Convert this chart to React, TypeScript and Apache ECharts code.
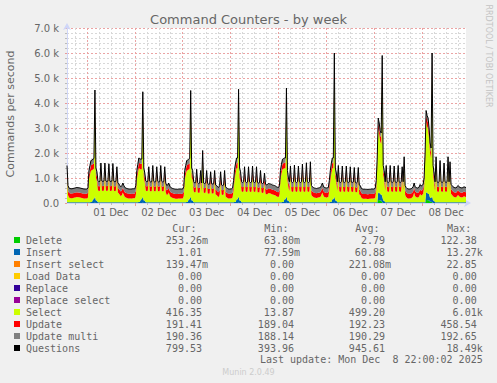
import React, { useEffect, useRef } from 'react';
import * as echarts from 'echarts';

// 30-minute samples, index 0 = Nov 30 14:00, index 400 = Dec 8 22:00
const dayLabels = ['01 Dec', '02 Dec', '03 Dec', '04 Dec', '05 Dec', '06 Dec', '07 Dec', '08 Dec'];

const questions = [
  1500, 700, 600, 580, 570, 570, 580, 590, 600, 610, 620, 610, 610, 600, 590, 580, 570, 560, 560, 560,
  560, 600, 1300, 1500, 1700, 1720, 1750, 1780, 4520, 1400, 1250, 900, 850, 870, 1600, 880, 860, 880, 1600, 880,
  860, 880, 1570, 870, 860, 880, 1580, 870, 850, 870, 1450, 800, 760, 700, 650, 700, 800, 700, 620, 600,
  580, 570, 560, 560, 560, 560, 570, 570, 570, 700, 1300, 1550, 1800, 1780, 1750, 1760, 4450, 1400, 1200, 880,
  850, 870, 1450, 870, 840, 860, 1500, 870, 840, 860, 1450, 870, 840, 860, 1500, 870, 840, 860, 1450, 800,
  700, 720, 800, 680, 620, 600, 580, 570, 560, 550, 550, 550, 560, 560, 560, 560, 560, 650, 1300, 1500,
  1700, 1720, 1750, 1780, 4500, 1400, 1300, 850, 800, 820, 1350, 820, 780, 800, 1300, 800, 2100, 800, 780, 800,
  1300, 780, 750, 760, 1250, 770, 760, 770, 1300, 720, 700, 650, 620, 700, 1250, 720, 700, 720, 1300, 650,
  600, 580, 560, 560, 560, 570, 600, 900, 1350, 1600, 1800, 1800, 4550, 1400, 1250, 850, 820, 850, 1450, 850,
  820, 840, 1450, 850, 820, 840, 1480, 850, 820, 840, 1450, 820, 800, 820, 1300, 800, 780, 800, 1200, 760,
  720, 740, 780, 770, 760, 740, 720, 710, 700, 680, 650, 630, 620, 700, 1300, 1550, 1750, 1780, 1800, 1800,
  4600, 1300, 1000, 850, 1480, 850, 820, 850, 1520, 850, 820, 850, 1480, 850, 820, 850, 1560, 850, 820, 850,
  1610, 850, 820, 850, 1650, 700, 650, 620, 600, 590, 580, 590, 600, 610, 620, 700, 800, 680, 620, 610,
  600, 610, 620, 900, 1300, 1600, 1800, 1800, 6000, 1400, 1200, 850, 1500, 850, 820, 850, 1480, 850, 820, 850,
  1480, 850, 820, 840, 1450, 840, 820, 840, 1420, 830, 800, 830, 1420, 720, 700, 600, 560, 550, 550, 550,
  550, 540, 540, 550, 550, 560, 560, 560, 560, 600, 900, 1800, 3400, 3200, 2900, 2800, 5900, 1500, 1300, 850,
  1500, 850, 820, 850, 1500, 850, 820, 850, 1480, 850, 820, 850, 1500, 850, 820, 850, 1450, 850, 1850, 700,
  620, 580, 560, 560, 560, 570, 600, 650, 800, 650, 620, 600, 600, 640, 740, 680, 700, 750, 1000, 2000,
  3700, 3500, 3400, 3000, 2400, 2200, 6000, 1500, 1200, 850, 1850, 850, 820, 850, 1700, 850, 820, 850, 1600, 850,
  820, 850, 1850, 850, 1650, 750, 700, 650, 620, 610, 600, 650, 700, 650, 620, 610, 600, 620, 650, 630,
  620,
];

const selectCmd = [
  1090, 290, 190, 170, 160, 160, 170, 180, 190, 200, 210, 200, 200, 190, 180, 170, 160, 150, 150, 150,
  150, 190, 890, 1090, 1250, 1270, 1190, 1220, 3770, 920, 770, 490, 440, 460, 1190, 470, 450, 470, 1190, 470,
  450, 470, 1160, 460, 450, 470, 1170, 460, 440, 460, 1040, 390, 350, 290, 240, 290, 390, 290, 210, 190,
  170, 160, 150, 150, 150, 150, 160, 160, 160, 290, 890, 1140, 1350, 1330, 1190, 1200, 3700, 920, 720, 470,
  440, 460, 1040, 460, 430, 450, 1090, 460, 430, 450, 1040, 460, 430, 450, 1090, 460, 430, 450, 1040, 390,
  290, 310, 390, 270, 210, 190, 170, 160, 150, 140, 140, 140, 150, 150, 150, 150, 150, 240, 890, 1090,
  1250, 1270, 1190, 1220, 3750, 920, 820, 440, 390, 410, 940, 410, 370, 390, 890, 390, 1690, 390, 370, 390,
  890, 370, 340, 350, 840, 360, 350, 360, 890, 310, 290, 240, 210, 290, 840, 310, 290, 310, 890, 240,
  190, 170, 150, 150, 150, 160, 190, 490, 900, 1150, 1240, 1240, 3800, 920, 770, 440, 410, 440, 1040, 440,
  410, 430, 1040, 440, 410, 430, 1070, 440, 410, 430, 1040, 410, 390, 410, 890, 390, 370, 390, 790, 350,
  310, 330, 370, 360, 350, 330, 310, 300, 290, 270, 240, 220, 210, 290, 890, 1140, 1300, 1330, 1240, 1240,
  3850, 820, 520, 440, 1070, 440, 410, 440, 1110, 440, 410, 440, 1070, 440, 410, 440, 1150, 440, 410, 440,
  1200, 440, 410, 440, 1240, 290, 240, 210, 190, 180, 170, 180, 190, 200, 210, 290, 390, 270, 210, 200,
  190, 200, 210, 490, 850, 1150, 1240, 1240, 5250, 920, 720, 440, 1090, 440, 410, 440, 1070, 440, 410, 440,
  1070, 440, 410, 430, 1040, 430, 410, 430, 1010, 420, 390, 420, 1010, 310, 290, 190, 150, 140, 140, 140,
  140, 130, 130, 140, 140, 150, 150, 150, 150, 190, 490, 1390, 2540, 2340, 2110, 2010, 5080, 1020, 820, 440,
  1090, 440, 410, 440, 1090, 440, 410, 440, 1070, 440, 410, 440, 1090, 440, 410, 440, 1040, 440, 1440, 290,
  210, 170, 150, 150, 150, 160, 190, 240, 390, 240, 210, 190, 190, 230, 330, 270, 290, 340, 590, 1590,
  2840, 2640, 2600, 2200, 1790, 1590, 5070, 1020, 720, 440, 1440, 440, 410, 440, 1290, 440, 410, 440, 1190, 440,
  410, 440, 1440, 440, 1240, 340, 290, 240, 210, 200, 190, 240, 290, 240, 210, 200, 190, 210, 240, 220,
  210,
];

const updateCmd = [
  191, 191, 191, 191, 191, 191, 191, 191, 191, 191, 191, 191, 191, 191, 191, 191, 191, 191, 191, 191,
  191, 191, 191, 191, 220, 220, 220, 220, 300, 191, 191, 191, 191, 191, 191, 191, 191, 191, 191, 191,
  191, 191, 191, 191, 191, 191, 191, 191, 191, 191, 191, 191, 191, 191, 191, 191, 191, 191, 191, 191,
  191, 191, 191, 191, 191, 191, 191, 191, 191, 191, 191, 191, 220, 220, 220, 220, 300, 191, 191, 191,
  191, 191, 191, 191, 191, 191, 191, 191, 191, 191, 191, 191, 191, 191, 191, 191, 191, 191, 191, 191,
  191, 191, 191, 191, 191, 191, 191, 191, 191, 191, 191, 191, 191, 191, 191, 191, 191, 191, 191, 191,
  220, 220, 220, 220, 300, 191, 191, 191, 191, 191, 191, 191, 191, 191, 191, 191, 191, 191, 191, 191,
  191, 191, 191, 191, 191, 191, 191, 191, 191, 191, 191, 191, 191, 191, 191, 191, 191, 191, 191, 191,
  191, 191, 191, 191, 191, 191, 191, 191, 220, 220, 220, 220, 300, 191, 191, 191, 191, 191, 191, 191,
  191, 191, 191, 191, 191, 191, 191, 191, 191, 191, 191, 191, 191, 191, 191, 191, 191, 191, 191, 191,
  191, 191, 191, 191, 191, 191, 191, 191, 191, 191, 191, 191, 191, 191, 191, 191, 220, 220, 220, 220,
  300, 191, 191, 191, 191, 191, 191, 191, 191, 191, 191, 191, 191, 191, 191, 191, 191, 191, 191, 191,
  191, 191, 191, 191, 191, 191, 191, 191, 191, 191, 191, 191, 191, 191, 191, 191, 191, 191, 191, 191,
  191, 191, 191, 191, 220, 220, 220, 220, 300, 191, 191, 191, 191, 191, 191, 191, 191, 191, 191, 191,
  191, 191, 191, 191, 191, 191, 191, 191, 191, 191, 191, 191, 191, 191, 191, 191, 191, 191, 191, 191,
  191, 191, 191, 191, 191, 191, 191, 191, 191, 191, 191, 191, 250, 250, 250, 250, 350, 191, 191, 191,
  191, 191, 191, 191, 191, 191, 191, 191, 191, 191, 191, 191, 191, 191, 191, 191, 191, 191, 191, 191,
  191, 191, 191, 191, 191, 191, 191, 191, 191, 191, 191, 191, 191, 191, 191, 191, 191, 191, 191, 191,
  250, 250, 250, 250, 220, 220, 458, 191, 191, 191, 191, 191, 191, 191, 191, 191, 191, 191, 191, 191,
  191, 191, 191, 191, 191, 191, 191, 191, 191, 191, 191, 191, 191, 191, 191, 191, 191, 191, 191, 191,
  191,
];

const updateMulti = [
  190, 190, 190, 190, 190, 190, 190, 190, 190, 190, 190, 190, 190, 190, 190, 190, 190, 190, 190, 190,
  190, 190, 190, 190, 190, 190, 190, 190, 190, 190, 190, 190, 190, 190, 190, 190, 190, 190, 190, 190,
  190, 190, 190, 190, 190, 190, 190, 190, 190, 190, 190, 190, 190, 190, 190, 190, 190, 190, 190, 190,
  190, 190, 190, 190, 190, 190, 190, 190, 190, 190, 190, 190, 190, 190, 190, 190, 190, 190, 190, 190,
  190, 190, 190, 190, 190, 190, 190, 190, 190, 190, 190, 190, 190, 190, 190, 190, 190, 190, 190, 190,
  190, 190, 190, 190, 190, 190, 190, 190, 190, 190, 190, 190, 190, 190, 190, 190, 190, 190, 190, 190,
  190, 190, 190, 190, 190, 190, 190, 190, 190, 190, 190, 190, 190, 190, 190, 190, 190, 190, 190, 190,
  190, 190, 190, 190, 190, 190, 190, 190, 190, 190, 190, 190, 190, 190, 190, 190, 190, 190, 190, 190,
  190, 190, 190, 190, 190, 190, 190, 190, 190, 190, 190, 190, 190, 190, 190, 190, 190, 190, 190, 190,
  190, 190, 190, 190, 190, 190, 190, 190, 190, 190, 190, 190, 190, 190, 190, 190, 190, 190, 190, 190,
  190, 190, 190, 190, 190, 190, 190, 190, 190, 190, 190, 190, 190, 190, 190, 190, 190, 190, 190, 190,
  190, 190, 190, 190, 190, 190, 190, 190, 190, 190, 190, 190, 190, 190, 190, 190, 190, 190, 190, 190,
  190, 190, 190, 190, 190, 190, 190, 190, 190, 190, 190, 190, 190, 190, 190, 190, 190, 190, 190, 190,
  190, 190, 190, 190, 190, 190, 190, 190, 190, 190, 190, 190, 190, 190, 190, 190, 190, 190, 190, 190,
  190, 190, 190, 190, 190, 190, 190, 190, 190, 190, 190, 190, 190, 190, 190, 190, 190, 190, 190, 190,
  190, 190, 190, 190, 190, 190, 190, 190, 190, 190, 190, 190, 190, 190, 190, 190, 190, 190, 190, 190,
  190, 190, 190, 190, 190, 190, 190, 190, 190, 190, 190, 190, 190, 190, 190, 190, 190, 190, 190, 190,
  190, 190, 190, 190, 190, 190, 190, 190, 190, 190, 190, 190, 190, 190, 190, 190, 190, 190, 190, 190,
  190, 190, 190, 190, 190, 190, 190, 190, 190, 190, 190, 190, 190, 190, 190, 190, 190, 190, 190, 190,
  190, 190, 190, 190, 190, 190, 190, 190, 190, 190, 190, 190, 190, 190, 190, 190, 190, 190, 190, 190,
  190,
];

const insertCmd = [
  25, 25, 25, 25, 25, 25, 25, 25, 25, 25, 25, 25, 25, 25, 25, 25, 25, 25, 25, 25,
  25, 25, 25, 25, 40, 40, 150, 150, 250, 100, 100, 25, 25, 25, 25, 25, 25, 25, 25, 25,
  25, 25, 25, 25, 25, 25, 25, 25, 25, 25, 25, 25, 25, 25, 25, 25, 25, 25, 25, 25,
  25, 25, 25, 25, 25, 25, 25, 25, 25, 25, 25, 25, 40, 40, 150, 150, 250, 100, 100, 25,
  25, 25, 25, 25, 25, 25, 25, 25, 25, 25, 25, 25, 25, 25, 25, 25, 25, 25, 25, 25,
  25, 25, 25, 25, 25, 25, 25, 25, 25, 25, 25, 25, 25, 25, 25, 25, 25, 25, 25, 25,
  40, 40, 150, 150, 250, 100, 100, 25, 25, 25, 25, 25, 25, 25, 25, 25, 25, 25, 25, 25,
  25, 25, 25, 25, 25, 25, 25, 25, 25, 25, 25, 25, 25, 25, 25, 25, 25, 25, 25, 25,
  25, 25, 25, 25, 25, 25, 25, 25, 40, 40, 150, 150, 250, 100, 100, 25, 25, 25, 25, 25,
  25, 25, 25, 25, 25, 25, 25, 25, 25, 25, 25, 25, 25, 25, 25, 25, 25, 25, 25, 25,
  25, 25, 25, 25, 25, 25, 25, 25, 25, 25, 25, 25, 25, 25, 25, 25, 40, 40, 150, 150,
  250, 100, 100, 25, 25, 25, 25, 25, 25, 25, 25, 25, 25, 25, 25, 25, 25, 25, 25, 25,
  25, 25, 25, 25, 25, 25, 25, 25, 25, 25, 25, 25, 25, 25, 25, 25, 25, 25, 25, 25,
  25, 25, 25, 25, 40, 40, 150, 150, 250, 100, 100, 25, 25, 25, 25, 25, 25, 25, 25, 25,
  25, 25, 25, 25, 25, 25, 25, 25, 25, 25, 25, 25, 25, 25, 25, 25, 25, 25, 25, 25,
  25, 25, 25, 25, 25, 25, 25, 25, 25, 25, 25, 25, 300, 300, 250, 250, 250, 100, 100, 25,
  25, 25, 25, 25, 25, 25, 25, 25, 25, 25, 25, 25, 25, 25, 25, 25, 25, 25, 25, 25,
  25, 25, 25, 25, 25, 25, 25, 25, 25, 25, 25, 25, 25, 25, 25, 25, 25, 25, 25, 25,
  300, 300, 250, 250, 150, 150, 250, 100, 100, 25, 25, 25, 25, 25, 25, 25, 25, 25, 25, 25,
  25, 25, 25, 25, 25, 25, 25, 25, 25, 25, 25, 25, 25, 25, 25, 25, 25, 25, 25, 25,
  25,
];

const deleteCmd = [
  2, 2, 2, 2, 2, 2, 2, 2, 2, 2, 2, 2, 2, 2, 2, 2, 2, 2, 2, 2,
  2, 2, 2, 2, 2, 2, 2, 2, 10, 2, 2, 2, 2, 2, 2, 2, 2, 2, 2, 2,
  2, 2, 2, 2, 2, 2, 2, 2, 2, 2, 2, 2, 2, 2, 2, 2, 2, 2, 2, 2,
  2, 2, 2, 2, 2, 2, 2, 2, 2, 2, 2, 2, 2, 2, 2, 2, 10, 2, 2, 2,
  2, 2, 2, 2, 2, 2, 2, 2, 2, 2, 2, 2, 2, 2, 2, 2, 2, 2, 2, 2,
  2, 2, 2, 2, 2, 2, 2, 2, 2, 2, 2, 2, 2, 2, 2, 2, 2, 2, 2, 2,
  2, 2, 2, 2, 10, 2, 2, 2, 2, 2, 2, 2, 2, 2, 2, 2, 2, 2, 2, 2,
  2, 2, 2, 2, 2, 2, 2, 2, 2, 2, 2, 2, 2, 2, 2, 2, 2, 2, 2, 2,
  2, 2, 2, 2, 2, 2, 2, 2, 2, 2, 2, 2, 10, 2, 2, 2, 2, 2, 2, 2,
  2, 2, 2, 2, 2, 2, 2, 2, 2, 2, 2, 2, 2, 2, 2, 2, 2, 2, 2, 2,
  2, 2, 2, 2, 2, 2, 2, 2, 2, 2, 2, 2, 2, 2, 2, 2, 2, 2, 2, 2,
  10, 2, 2, 2, 2, 2, 2, 2, 2, 2, 2, 2, 2, 2, 2, 2, 2, 2, 2, 2,
  2, 2, 2, 2, 2, 2, 2, 2, 2, 2, 2, 2, 2, 2, 2, 2, 2, 2, 2, 2,
  2, 2, 2, 2, 2, 2, 2, 2, 10, 2, 2, 2, 2, 2, 2, 2, 2, 2, 2, 2,
  2, 2, 2, 2, 2, 2, 2, 2, 2, 2, 2, 2, 2, 2, 2, 2, 2, 2, 2, 2,
  2, 2, 2, 2, 2, 2, 2, 2, 2, 2, 2, 2, 120, 120, 100, 100, 30, 2, 2, 2,
  2, 2, 2, 2, 2, 2, 2, 2, 2, 2, 2, 2, 2, 2, 2, 2, 2, 2, 2, 2,
  2, 2, 2, 2, 2, 2, 2, 2, 2, 2, 2, 2, 2, 2, 2, 2, 2, 2, 2, 2,
  120, 120, 110, 110, 50, 50, 30, 2, 2, 2, 2, 2, 2, 2, 2, 2, 2, 2, 2, 2,
  2, 2, 2, 2, 2, 2, 2, 2, 2, 2, 2, 2, 2, 2, 2, 2, 2, 2, 2, 2,
  2,
];

const insertSelect = [
  0, 0, 0, 0, 0, 0, 0, 0, 0, 0, 0, 0, 0, 0, 0, 0, 0, 0, 0, 0, 0, 0, 0, 0, 0, 0, 0, 0, 0, 0, 0, 0, 0, 0, 0, 0, 0, 0, 0, 0,
  0, 0, 0, 0, 0, 0, 0, 0, 0, 0, 0, 0, 0, 0, 0, 0, 0, 0, 0, 0, 0, 0, 0, 0, 0, 0, 0, 0, 0, 0, 0, 0, 0, 0, 0, 0, 0, 0, 0, 0,
  0, 0, 0, 0, 0, 0, 0, 0, 0, 0, 0, 0, 0, 0, 0, 0, 0, 0, 0, 0, 0, 0, 0, 0, 0, 0, 0, 0, 0, 0, 0, 0, 0, 0, 0, 0, 0, 0, 0, 0,
  0, 0, 0, 0, 0, 0, 0, 0, 0, 0, 0, 0, 0, 0, 0, 0, 0, 0, 0, 0, 0, 0, 0, 0, 0, 0, 0, 0, 0, 0, 0, 0, 0, 0, 0, 0, 0, 0, 0, 0,
  0, 0, 0, 0, 0, 0, 0, 0, 0, 0, 0, 0, 0, 0, 0, 0, 0, 0, 0, 0, 0, 0, 0, 0, 0, 0, 0, 0, 0, 0, 0, 0, 0, 0, 0, 0, 0, 0, 0, 0,
  0, 0, 0, 0, 0, 0, 0, 0, 0, 0, 0, 0, 0, 0, 0, 0, 0, 0, 0, 0, 0, 0, 0, 0, 0, 0, 0, 0, 0, 0, 0, 0, 0, 0, 0, 0, 0, 0, 0, 0,
  0, 0, 0, 0, 0, 0, 0, 0, 0, 0, 0, 0, 0, 0, 0, 0, 0, 0, 0, 0, 0, 0, 0, 0, 0, 0, 0, 0, 0, 0, 0, 0, 0, 0, 0, 0, 0, 0, 0, 0,
  0, 0, 0, 0, 0, 0, 0, 0, 0, 0, 0, 0, 0, 0, 0, 0, 0, 0, 0, 0, 0, 0, 0, 0, 0, 0, 0, 0, 0, 0, 0, 0, 0, 0, 0, 0, 0, 0, 0, 0,
  0, 0, 0, 0, 0, 0, 0, 0, 0, 0, 0, 0, 0, 0, 0, 0, 0, 0, 0, 0, 0, 0, 0, 0, 0, 0, 0, 0, 0, 0, 0, 0, 0, 0, 0, 0, 0, 0, 0, 0,
  0, 0, 0, 0, 0, 0, 0, 0, 0, 0, 0, 0, 0, 0, 0, 0, 0, 0, 0, 0, 0, 0, 0, 0, 0, 0, 0, 0, 0, 0, 0, 0, 0, 0, 0, 0, 0, 0, 0, 0,
  0,
];
const loadData = [
  0, 0, 0, 0, 0, 0, 0, 0, 0, 0, 0, 0, 0, 0, 0, 0, 0, 0, 0, 0, 0, 0, 0, 0, 0, 0, 0, 0, 0, 0, 0, 0, 0, 0, 0, 0, 0, 0, 0, 0,
  0, 0, 0, 0, 0, 0, 0, 0, 0, 0, 0, 0, 0, 0, 0, 0, 0, 0, 0, 0, 0, 0, 0, 0, 0, 0, 0, 0, 0, 0, 0, 0, 0, 0, 0, 0, 0, 0, 0, 0,
  0, 0, 0, 0, 0, 0, 0, 0, 0, 0, 0, 0, 0, 0, 0, 0, 0, 0, 0, 0, 0, 0, 0, 0, 0, 0, 0, 0, 0, 0, 0, 0, 0, 0, 0, 0, 0, 0, 0, 0,
  0, 0, 0, 0, 0, 0, 0, 0, 0, 0, 0, 0, 0, 0, 0, 0, 0, 0, 0, 0, 0, 0, 0, 0, 0, 0, 0, 0, 0, 0, 0, 0, 0, 0, 0, 0, 0, 0, 0, 0,
  0, 0, 0, 0, 0, 0, 0, 0, 0, 0, 0, 0, 0, 0, 0, 0, 0, 0, 0, 0, 0, 0, 0, 0, 0, 0, 0, 0, 0, 0, 0, 0, 0, 0, 0, 0, 0, 0, 0, 0,
  0, 0, 0, 0, 0, 0, 0, 0, 0, 0, 0, 0, 0, 0, 0, 0, 0, 0, 0, 0, 0, 0, 0, 0, 0, 0, 0, 0, 0, 0, 0, 0, 0, 0, 0, 0, 0, 0, 0, 0,
  0, 0, 0, 0, 0, 0, 0, 0, 0, 0, 0, 0, 0, 0, 0, 0, 0, 0, 0, 0, 0, 0, 0, 0, 0, 0, 0, 0, 0, 0, 0, 0, 0, 0, 0, 0, 0, 0, 0, 0,
  0, 0, 0, 0, 0, 0, 0, 0, 0, 0, 0, 0, 0, 0, 0, 0, 0, 0, 0, 0, 0, 0, 0, 0, 0, 0, 0, 0, 0, 0, 0, 0, 0, 0, 0, 0, 0, 0, 0, 0,
  0, 0, 0, 0, 0, 0, 0, 0, 0, 0, 0, 0, 0, 0, 0, 0, 0, 0, 0, 0, 0, 0, 0, 0, 0, 0, 0, 0, 0, 0, 0, 0, 0, 0, 0, 0, 0, 0, 0, 0,
  0, 0, 0, 0, 0, 0, 0, 0, 0, 0, 0, 0, 0, 0, 0, 0, 0, 0, 0, 0, 0, 0, 0, 0, 0, 0, 0, 0, 0, 0, 0, 0, 0, 0, 0, 0, 0, 0, 0, 0,
  0,
];
const replaceCmd = [
  0, 0, 0, 0, 0, 0, 0, 0, 0, 0, 0, 0, 0, 0, 0, 0, 0, 0, 0, 0, 0, 0, 0, 0, 0, 0, 0, 0, 0, 0, 0, 0, 0, 0, 0, 0, 0, 0, 0, 0,
  0, 0, 0, 0, 0, 0, 0, 0, 0, 0, 0, 0, 0, 0, 0, 0, 0, 0, 0, 0, 0, 0, 0, 0, 0, 0, 0, 0, 0, 0, 0, 0, 0, 0, 0, 0, 0, 0, 0, 0,
  0, 0, 0, 0, 0, 0, 0, 0, 0, 0, 0, 0, 0, 0, 0, 0, 0, 0, 0, 0, 0, 0, 0, 0, 0, 0, 0, 0, 0, 0, 0, 0, 0, 0, 0, 0, 0, 0, 0, 0,
  0, 0, 0, 0, 0, 0, 0, 0, 0, 0, 0, 0, 0, 0, 0, 0, 0, 0, 0, 0, 0, 0, 0, 0, 0, 0, 0, 0, 0, 0, 0, 0, 0, 0, 0, 0, 0, 0, 0, 0,
  0, 0, 0, 0, 0, 0, 0, 0, 0, 0, 0, 0, 0, 0, 0, 0, 0, 0, 0, 0, 0, 0, 0, 0, 0, 0, 0, 0, 0, 0, 0, 0, 0, 0, 0, 0, 0, 0, 0, 0,
  0, 0, 0, 0, 0, 0, 0, 0, 0, 0, 0, 0, 0, 0, 0, 0, 0, 0, 0, 0, 0, 0, 0, 0, 0, 0, 0, 0, 0, 0, 0, 0, 0, 0, 0, 0, 0, 0, 0, 0,
  0, 0, 0, 0, 0, 0, 0, 0, 0, 0, 0, 0, 0, 0, 0, 0, 0, 0, 0, 0, 0, 0, 0, 0, 0, 0, 0, 0, 0, 0, 0, 0, 0, 0, 0, 0, 0, 0, 0, 0,
  0, 0, 0, 0, 0, 0, 0, 0, 0, 0, 0, 0, 0, 0, 0, 0, 0, 0, 0, 0, 0, 0, 0, 0, 0, 0, 0, 0, 0, 0, 0, 0, 0, 0, 0, 0, 0, 0, 0, 0,
  0, 0, 0, 0, 0, 0, 0, 0, 0, 0, 0, 0, 0, 0, 0, 0, 0, 0, 0, 0, 0, 0, 0, 0, 0, 0, 0, 0, 0, 0, 0, 0, 0, 0, 0, 0, 0, 0, 0, 0,
  0, 0, 0, 0, 0, 0, 0, 0, 0, 0, 0, 0, 0, 0, 0, 0, 0, 0, 0, 0, 0, 0, 0, 0, 0, 0, 0, 0, 0, 0, 0, 0, 0, 0, 0, 0, 0, 0, 0, 0,
  0,
];
const replaceSelect = [
  0, 0, 0, 0, 0, 0, 0, 0, 0, 0, 0, 0, 0, 0, 0, 0, 0, 0, 0, 0, 0, 0, 0, 0, 0, 0, 0, 0, 0, 0, 0, 0, 0, 0, 0, 0, 0, 0, 0, 0,
  0, 0, 0, 0, 0, 0, 0, 0, 0, 0, 0, 0, 0, 0, 0, 0, 0, 0, 0, 0, 0, 0, 0, 0, 0, 0, 0, 0, 0, 0, 0, 0, 0, 0, 0, 0, 0, 0, 0, 0,
  0, 0, 0, 0, 0, 0, 0, 0, 0, 0, 0, 0, 0, 0, 0, 0, 0, 0, 0, 0, 0, 0, 0, 0, 0, 0, 0, 0, 0, 0, 0, 0, 0, 0, 0, 0, 0, 0, 0, 0,
  0, 0, 0, 0, 0, 0, 0, 0, 0, 0, 0, 0, 0, 0, 0, 0, 0, 0, 0, 0, 0, 0, 0, 0, 0, 0, 0, 0, 0, 0, 0, 0, 0, 0, 0, 0, 0, 0, 0, 0,
  0, 0, 0, 0, 0, 0, 0, 0, 0, 0, 0, 0, 0, 0, 0, 0, 0, 0, 0, 0, 0, 0, 0, 0, 0, 0, 0, 0, 0, 0, 0, 0, 0, 0, 0, 0, 0, 0, 0, 0,
  0, 0, 0, 0, 0, 0, 0, 0, 0, 0, 0, 0, 0, 0, 0, 0, 0, 0, 0, 0, 0, 0, 0, 0, 0, 0, 0, 0, 0, 0, 0, 0, 0, 0, 0, 0, 0, 0, 0, 0,
  0, 0, 0, 0, 0, 0, 0, 0, 0, 0, 0, 0, 0, 0, 0, 0, 0, 0, 0, 0, 0, 0, 0, 0, 0, 0, 0, 0, 0, 0, 0, 0, 0, 0, 0, 0, 0, 0, 0, 0,
  0, 0, 0, 0, 0, 0, 0, 0, 0, 0, 0, 0, 0, 0, 0, 0, 0, 0, 0, 0, 0, 0, 0, 0, 0, 0, 0, 0, 0, 0, 0, 0, 0, 0, 0, 0, 0, 0, 0, 0,
  0, 0, 0, 0, 0, 0, 0, 0, 0, 0, 0, 0, 0, 0, 0, 0, 0, 0, 0, 0, 0, 0, 0, 0, 0, 0, 0, 0, 0, 0, 0, 0, 0, 0, 0, 0, 0, 0, 0, 0,
  0, 0, 0, 0, 0, 0, 0, 0, 0, 0, 0, 0, 0, 0, 0, 0, 0, 0, 0, 0, 0, 0, 0, 0, 0, 0, 0, 0, 0, 0, 0, 0, 0, 0, 0, 0, 0, 0, 0, 0,
  0,
];

const legendNames = ['Delete', 'Insert', 'Insert select', 'Load Data', 'Replace', 'Replace select', 'Select', 'Update', 'Update multi', 'Questions'];
const legendColors = ['#00CC00', '#0066B3', '#FF8000', '#FFCC00', '#330099', '#990099', '#CCFF00', '#FF0000', '#808080', '#000000'];
const curValues = ['253.26m', '1.01', '139.47m', '0.00', '0.00', '0.00', '416.35', '191.41', '190.36', '799.53'];
const minValues = ['63.80m', '77.59m', '0.00', '0.00', '0.00', '0.00', '13.87', '189.04', '188.14', '393.96'];
const avgValues = ['2.79', '60.88', '221.08m', '0.00', '0.00', '0.00', '499.20', '192.23', '190.29', '945.61'];
const maxValues = ['122.38', '13.27k', '22.85', '0.00', '0.00', '0.00', '6.01k', '458.54', '192.65', '18.49k'];
const columnHeaders = ['Cur:', 'Min:', 'Avg:', 'Max:'];

const FONT = 'DejaVu Sans';
const MONO = 'DejaVu Sans Mono';
const TXT = '#666666';

function buildOption() {
  const categories = questions.map((_, i) => String(i));
  // slot 20 = Dec 1 00:00, 12 slots = 6 hours, 48 slots = 1 day
  const minorFn = (i: number) => (i - 20) % 12 === 0 && (i - 20) % 48 !== 0;
  const majorFn = (i: number) => (i - 20) % 48 === 0;
  const labelFn = (i: number) => i >= 44 && (i - 44) % 48 === 0;

  const stackDefs: [string, number[], string][] = [
    [legendNames[0], deleteCmd, legendColors[0]],
    [legendNames[1], insertCmd, legendColors[1]],
    [legendNames[2], insertSelect, legendColors[2]],
    [legendNames[3], loadData, legendColors[3]],
    [legendNames[4], replaceCmd, legendColors[4]],
    [legendNames[5], replaceSelect, legendColors[5]],
    [legendNames[6], selectCmd, legendColors[6]],
    [legendNames[7], updateCmd, legendColors[7]],
    [legendNames[8], updateMulti, legendColors[8]],
  ];
  const series: any[] = stackDefs.map(([name, data, color]) => ({
    name,
    type: 'line',
    stack: 'total',
    data,
    symbol: 'none',
    silent: true,
    lineStyle: { width: 0, color },
    itemStyle: { color },
    areaStyle: { color, opacity: 1 },
    z: 2,
  }));
  series.push({
    name: legendNames[9],
    type: 'line',
    data: questions,
    symbol: 'none',
    silent: true,
    lineStyle: { width: 1, color: '#000000' },
    itemStyle: { color: '#000000' },
    z: 3,
  });

  const graphics: any[] = [];
  const text = (t: string, x: number, y: number, opts: any = {}) => {
    const align = opts.align || 'left';
    graphics.push({
      type: 'text',
      x,
      y,
      rotation: opts.rotation || 0,
      silent: true,
      style: {
        text: t,
        fill: opts.fill || TXT,
        fontSize: opts.size || 10,
        fontFamily: opts.family || MONO,
        align,
        textAlign: align,
        verticalAlign: 'middle',
        textVerticalAlign: 'middle',
      },
    });
  };

  text('Command Counters - by week', 248.5, 19, { align: 'center', family: FONT, size: 13 });
  text('Commands per second', 10, 114, { align: 'center', family: FONT, size: 11, rotation: Math.PI / 2 });
  text('RRDTOOL / TOBI OETIKER', 488, 56, { align: 'center', family: FONT, size: 8, fill: '#C4C4C4', rotation: -Math.PI / 2 });

  const CH = 6.02;
  const colRight = [208, 300, 391, 482.7];
  columnHeaders.forEach((h, c) => text(h, colRight[c] - 2 * CH + 0.5, 228, { align: 'right' }));
  const cols = [curValues, minValues, avgValues, maxValues];
  legendNames.forEach((name, r) => {
    const y = 240 + 12 * r;
    graphics.push({
      type: 'rect',
      silent: true,
      shape: { x: 14, y: y - 3, width: 6, height: 6 },
      style: { fill: legendColors[r] },
    });
    text(name, 26, y);
    cols.forEach((arr, c) => {
      const s = arr[r];
      const hasSuffix = /[a-z]$/i.test(s);
      text(s, hasSuffix ? colRight[c] : colRight[c] - CH, y, { align: 'right' });
    });
  });
  text('Last update: Mon Dec \u00A08 22:00:02 2025', 482.7, 359.5, { align: 'right' });
  text('Munin 2.0.49', 248.5, 372.5, { align: 'center', family: FONT, size: 8, fill: '#CCCCCC' });

  return {
    animation: false,
    backgroundColor: '#F0F0F0',
    grid: { left: 67, right: 31, top: 28, bottom: 180, show: true, backgroundColor: '#FFFFFF', borderWidth: 0 },
    xAxis: [
      {
        type: 'category',
        data: categories,
        boundaryGap: false,
        axisLine: {
          show: true,
          lineStyle: { color: '#CFD6F8', width: 1 },
          symbol: ['none', 'arrow'],
          symbolSize: [6, 7],
          symbolOffset: [0, 5],
        },
        axisTick: { show: true, interval: minorFn, length: 2, lineStyle: { color: '#BBBBBB' } },
        axisLabel: {
          show: true,
          interval: labelFn,
          formatter: (_v: string, i: number) => dayLabels[(i - 44) / 48] || '',
          fontFamily: FONT,
          fontSize: 10,
          color: TXT,
          margin: 4,
        },
        splitLine: { show: true, interval: minorFn, lineStyle: { color: '#D8D8D8', type: [2, 2], width: 1 } },
        z: 1,
      },
      {
        type: 'category',
        data: categories,
        boundaryGap: false,
        position: 'bottom',
        axisLine: { show: false },
        axisTick: { show: true, interval: majorFn, length: 3, lineStyle: { color: '#E89A9A' } },
        axisLabel: { show: false },
        splitLine: { show: true, interval: majorFn, lineStyle: { color: '#EBA3A3', type: [2, 2], width: 1 } },
        z: 1,
      },
    ],
    yAxis: {
      type: 'value',
      min: 0,
      max: 7000,
      interval: 1000,
      axisLine: {
        show: true,
        lineStyle: { color: '#CFD6F8', width: 1 },
        symbol: ['none', 'arrow'],
        symbolSize: [6, 7],
        symbolOffset: [0, 5],
      },
      axisTick: { show: true, length: 2, lineStyle: { color: '#E89A9A' } },
      minorTick: { show: true, splitNumber: 5, length: 2, lineStyle: { color: '#BBBBBB' } },
      minorSplitLine: { show: true, lineStyle: { color: '#D8D8D8', type: [2, 2], width: 1 } },
      splitLine: { show: true, lineStyle: { color: '#EBA3A3', type: [2, 2], width: 1 } },
      axisLabel: {
        formatter: (v: number) => (v === 0 ? '0.0' : `${(v / 1000).toFixed(1)} k`),
        fontFamily: FONT,
        fontSize: 10,
        color: TXT,
        margin: 8,
      },
      z: 1,
    },
    graphic: graphics,
    series,
  };
}

export default function App() {
  const ref = useRef<HTMLDivElement>(null);
  useEffect(() => {
    if (!ref.current) return;
    const chart = echarts.init(ref.current, null, { renderer: 'svg' });
    chart.setOption(buildOption() as any);
    return () => chart.dispose();
  }, []);
  return <div ref={ref} style={{ position: 'fixed', left: 0, top: 0, width: 497, height: 383 }} />;
}
